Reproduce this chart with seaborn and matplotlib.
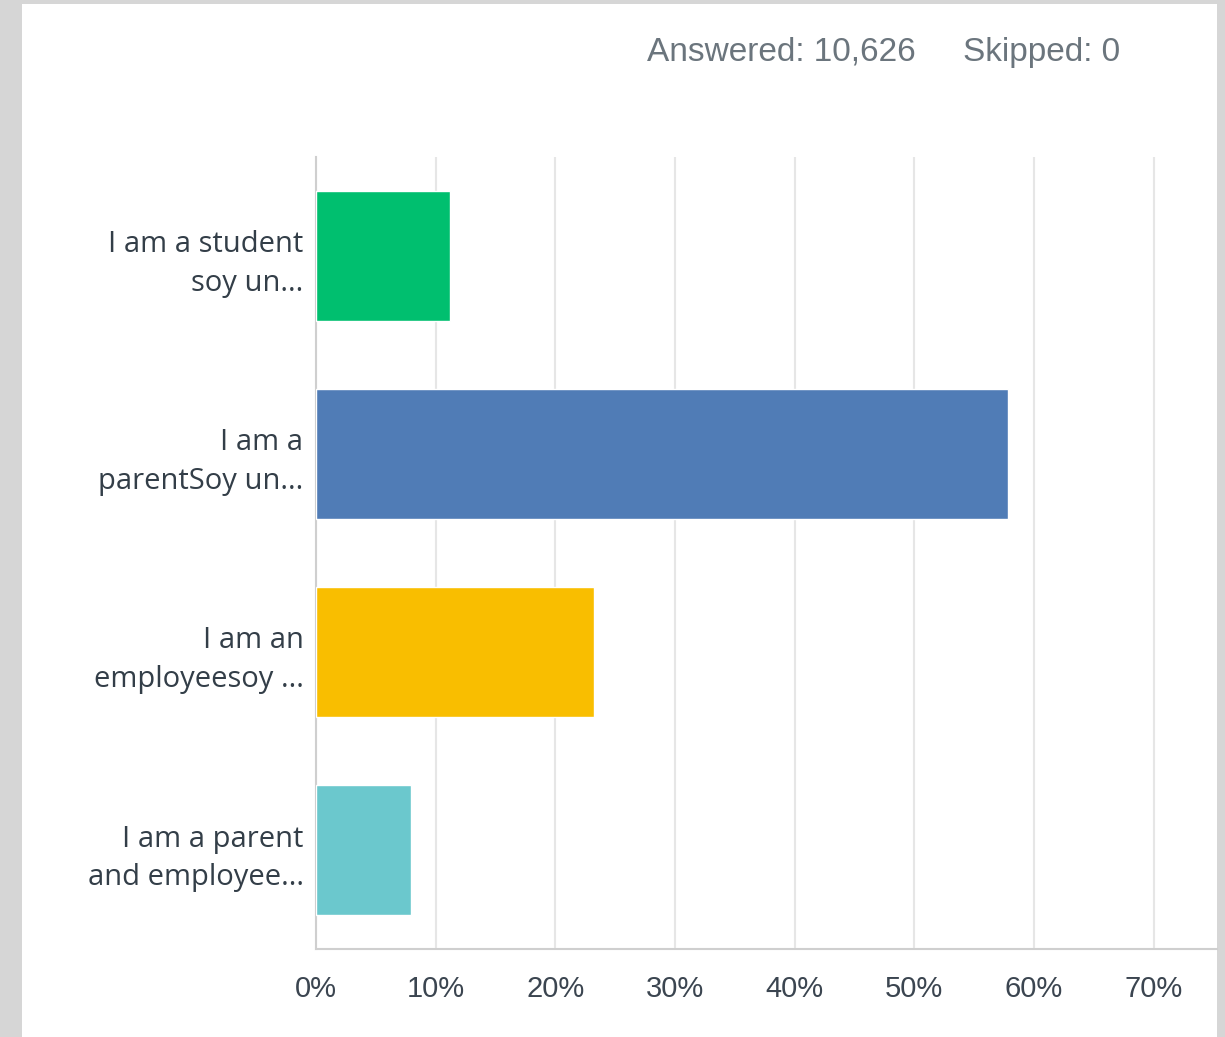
import matplotlib
matplotlib.use("Agg")
import matplotlib.pyplot as plt
import seaborn as sns
import pandas as pd
from matplotlib.patches import Rectangle

categories = ["I am a student\nsoy un...", "I am a\nparentSoy un...",
              "I am an\nemployeesoy ...", "I am a parent\nand employee..."]
values = [11.2, 57.8, 23.2, 7.9]
colors = ["#00BF6F", "#507CB6", "#F9BE00", "#6BC8CD"]
xticks = [0, 10, 20, 30, 40, 50, 60, 70]
xtick_labels = ["0%", "10%", "20%", "30%", "40%", "50%", "60%", "70%"]
header_answered = "Answered: 10,626"
header_skipped = "Skipped: 0"

df = pd.DataFrame({"cat": categories, "val": values})

sns.set_theme(style="white")
W, H = 1225, 1037
fig = plt.figure(figsize=(W / 100, H / 100), dpi=100)
fig.patch.set_facecolor("#d6d6d6")
fig.patches.append(Rectangle((22 / W, 0), (1217 - 22) / W, (H - 4) / H,
                             transform=fig.transFigure, facecolor="white",
                             edgecolor="none", zorder=-10))

ax = fig.add_axes([316 / W, 1 - 949 / H, (1217 - 316) / W, (949 - 157) / H])
ax.set_zorder(5)
ax.set_facecolor("none")
sns.barplot(data=df, y="cat", x="val", hue="cat", palette=colors, legend=False,
            orient="h", width=0.66, saturation=1, ax=ax, zorder=3)
ax.set_xlim(0, 75.3)
ax.set_xticks(xticks)
ax.set_xticklabels(xtick_labels, family="Liberation Sans", fontsize=21, color="#3b4550")
ax.set_yticklabels(categories, family="Open Sans", fontsize=21, color="#333e48",
                   linespacing=1.45)
ax.set_xlabel("")
ax.set_ylabel("")
ax.grid(axis="x", color="#e6e6e6", linewidth=1.5, zorder=0)
ax.grid(axis="y", visible=False)
for s in ["top", "right"]:
    ax.spines[s].set_visible(False)
for s in ["left", "bottom"]:
    ax.spines[s].set_color("#cfcfcf")
    ax.spines[s].set_linewidth(1.5)
ax.tick_params(axis="x", length=0, pad=19)
ax.tick_params(axis="y", length=0, pad=9)

fig.text(647 / W, 1 - 52 / H, header_answered, family="Liberation Sans",
         fontsize=24, color="#6b757d", va="center", ha="left", zorder=6)
fig.text(963 / W, 1 - 52 / H, header_skipped, family="Liberation Sans",
         fontsize=24, color="#6b757d", va="center", ha="left", zorder=6)

fig.savefig("out.png", dpi=100, facecolor=fig.get_facecolor())
